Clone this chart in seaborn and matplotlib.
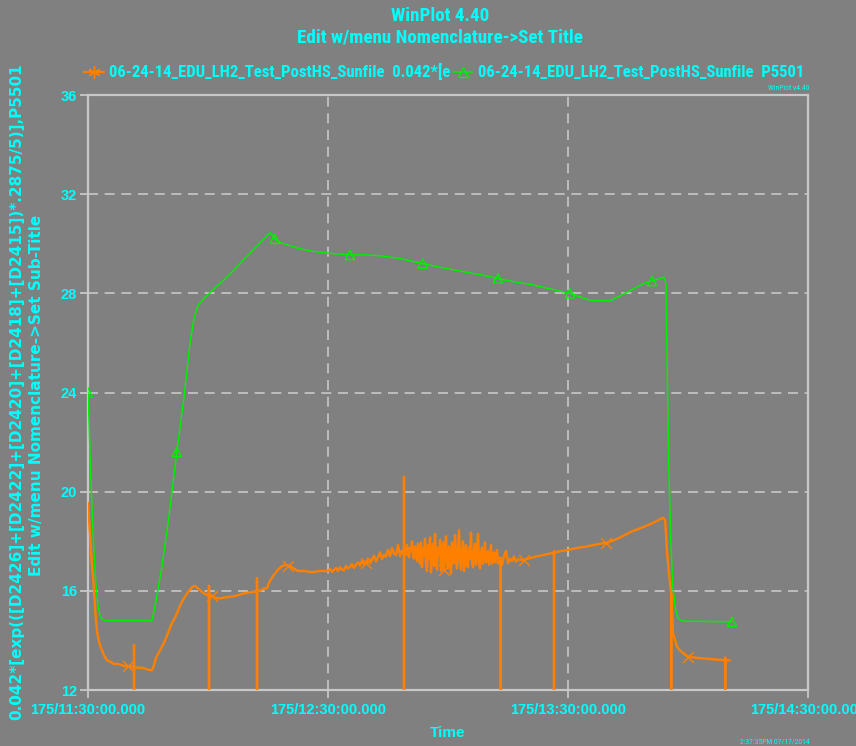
import numpy as np
import pandas as pd
import matplotlib
matplotlib.use("Agg")
import matplotlib.pyplot as plt
import seaborn as sns
from matplotlib.lines import Line2D
from matplotlib import font_manager

# ---------------- data ----------------
title_lines = ["WinPlot 4.40", "Edit w/menu Nomenclature->Set Title"]
legend_labels = ["06-24-14_EDU_LH2_Test_PostHS_Sunfile  0.042*[e",
                 "06-24-14_EDU_LH2_Test_PostHS_Sunfile  P5501"]
ylabel_lines = ["0.042*[exp(([D2426]+[D2422]+[D2420]+[D2418]+[D2415])*.2875/5)],P5501",
                "Edit w/menu Nomenclature->Set Sub-Title"]
xlabel_text = "Time"
corner_top = "WinPlot v4.40"
corner_bottom = "2:37:35PM 07/17/2014"

x_tick_pos = [0, 60, 120, 180]          # minutes after 175/11:30:00
x_tick_labels = ["175/11:30:00.000", "175/12:30:00.000",
                 "175/13:30:00.000", "175/14:30:00.000"]
y_ticks = [12, 16, 20, 24, 28, 32, 36]

# orange series: (minutes after 11:30, value); dropouts appear as vertical strokes
orange_start = [(0.0, 19.55), (0.3, 18.8), (0.7, 17.8), (1.0, 17.0), (1.3, 16.5), (1.7, 15.5), (2.0, 14.8),
                (2.3, 14.3), (2.7, 14.0), (3.0, 13.8), (3.5, 13.6), (4.0, 13.4), (4.7, 13.2), (5.5, 13.15),
                (6.5, 13.05), (7.5, 13.05), (8.5, 13.0), (9.5, 12.95), (10.0, 12.95), (10.5, 12.95),
                (11.5, 12.92), (11.5, 13.8), (11.5, 11.0), (11.5, 12.92),
                (12.5, 12.9), (13.5, 12.9), (14.5, 12.85), (15.5, 12.8), (16.0, 12.8), (16.5, 13.0),
                (17.0, 13.3), (18.0, 13.6), (19.0, 13.9), (20.0, 14.3), (21.0, 14.7), (22.0, 15.0),
                (23.0, 15.4), (24.0, 15.7), (25.0, 15.95), (26.0, 16.15), (26.7, 16.2), (27.5, 16.1),
                (28.5, 15.95), (29.5, 15.85),
                (30.25, 15.82), (30.25, 16.2), (30.25, 11.0), (30.25, 15.82),
                (31.0, 15.8), (32.0, 15.7), (33.0, 15.7), (35.0, 15.75), (37.0, 15.8), (39.0, 15.9), (41.0, 15.95),
                (42.25, 15.98), (42.25, 16.5), (42.25, 11.0), (42.25, 15.98),
                (43.0, 16.0), (44.0, 16.1), (44.7, 16.1), (45.5, 16.4), (46.3, 16.6), (47.5, 16.85),
                (48.5, 17.0), (49.5, 17.05), (50.0, 17.02), (50.5, 17.0), (51.5, 16.9), (52.5, 16.8),
                (54.0, 16.8), (56.0, 16.75), (58.0, 16.8)]
orange_noisy = [(60.0, 16.80), (60.5, 16.88), (61.0, 16.76), (61.5, 16.85), (62.0, 16.92), (62.5, 16.80),
                (63.0, 16.95), (63.5, 16.86), (64.0, 16.83), (64.5, 17.00), (65.0, 16.90), (65.5, 16.97),
                (66.0, 17.08), (66.5, 16.92), (67.0, 17.05), (67.5, 17.15), (68.0, 17.02), (68.5, 17.20),
                (69.0, 17.08), (69.5, 17.12), (70.0, 17.30), (70.5, 17.10), (71.0, 17.25), (71.5, 17.42),
                (72.0, 17.18), (72.5, 17.35), (73.0, 17.55), (73.5, 17.28), (74.0, 17.45), (74.5, 17.38),
                (75.0, 17.65), (75.5, 17.40), (76.0, 17.72), (76.5, 17.50), (77.0, 17.45), (77.5, 17.85),
                (78.0, 17.40), (78.5, 17.62),
                (79.0, 17.50), (79.0, 20.6), (79.0, 11.0), (79.0, 17.50),
                (79.25, 17.70), (79.5, 17.45), (79.75, 17.85), (80.0, 17.50), (80.25, 17.35), (80.5, 17.75),
                (80.75, 17.60), (81.0, 18.00), (81.25, 17.40), (81.5, 17.30), (81.75, 17.80), (82.0, 17.55),
                (82.25, 17.20), (82.5, 17.90), (82.75, 17.65), (83.0, 17.10), (83.25, 17.95), (83.5, 16.95),
                (83.75, 17.70), (84.0, 17.40), (84.25, 18.10), (84.5, 17.05), (84.75, 16.80), (85.0, 17.85),
                (85.25, 17.30), (85.5, 18.15), (85.75, 16.75), (86.0, 17.60), (86.25, 17.90), (86.5, 17.00),
                (86.75, 18.30), (87.0, 17.25), (87.25, 16.85), (87.5, 17.75), (87.75, 17.45), (88.0, 18.05),
                (88.25, 16.80), (88.5, 17.50), (88.75, 17.95), (89.0, 16.85), (89.25, 17.65), (89.5, 18.20),
                (89.75, 17.15), (90.0, 16.90), (90.25, 17.80), (90.5, 17.35), (90.75, 16.70), (91.0, 17.95),
                (91.25, 17.55), (91.5, 17.10), (91.75, 18.25), (92.0, 17.40), (92.25, 16.90), (92.5, 17.70),
                (92.75, 18.45), (93.0, 17.20), (93.25, 16.85), (93.5, 17.60), (93.75, 18.00), (94.0, 16.80),
                (94.25, 17.45), (94.5, 17.85), (94.75, 17.00), (95.0, 16.95), (95.25, 17.75), (95.5, 17.30),
                (95.75, 18.35), (96.0, 17.15), (96.25, 16.95), (96.5, 17.60), (96.75, 17.90), (97.0, 17.05),
                (97.25, 17.50), (97.5, 18.30), (97.75, 17.20), (98.0, 16.90), (98.25, 17.55), (98.5, 17.75),
                (98.75, 17.10), (99.0, 17.40), (99.25, 17.95), (99.5, 17.15), (99.75, 17.30), (100.0, 17.60),
                (100.25, 17.05), (100.5, 17.45), (100.75, 17.85), (101.0, 17.10), (101.25, 17.30), (101.5, 17.55),
                (101.75, 17.15), (102.0, 17.40), (102.25, 17.65), (102.5, 17.10), (102.75, 17.35), (103.0, 17.20),
                (103.2, 17.3), (103.2, 11.0), (103.2, 17.3),
                (103.5, 17.05), (104.0, 17.40), (104.5, 17.60), (105.0, 17.12), (105.5, 17.30), (106.0, 17.20),
                (106.5, 17.38), (107.0, 17.18), (107.5, 17.28)]
orange_end = [(108.0, 17.25), (109.0, 17.25), (110.0, 17.3), (112.0, 17.38), (114.0, 17.45), (116.0, 17.52),
              (116.5, 17.54), (116.5, 17.6), (116.5, 11.0), (116.5, 17.54),
              (118.0, 17.6), (120.0, 17.65), (122.0, 17.72), (125.0, 17.8), (128.0, 17.9), (129.5, 17.93),
              (130.0, 17.95), (133.0, 18.15), (136.0, 18.4), (138.0, 18.52), (140.0, 18.65), (142.0, 18.8),
              (143.75, 18.95), (144.3, 18.85), (144.75, 17.6), (145.2, 16.8),
              (145.8, 15.9), (145.8, 11.0), (145.8, 15.9),
              (146.25, 14.3), (147.25, 13.75), (148.0, 13.6), (149.0, 13.45), (150.0, 13.35), (152.0, 13.3),
              (155.5, 13.25), (158.0, 13.22),
              (159.3, 13.2), (159.3, 13.3), (159.3, 11.0), (159.3, 13.2),
              (160.5, 13.2)]
orange_mark_t = [10.0, 31.0, 50.0, 69.5, 89.0, 109.0, 129.5, 150.0]

# green series (P5501)
green_t = [0.0, 0.2, 0.5, 1.0, 1.5, 2.0, 2.5, 3.0, 3.5, 4.5, 16.0, 17.0, 18.5, 20.0, 22.2, 24.0, 25.5, 26.5,
           27.5, 29.0, 31.0, 33.0, 35.0, 38.0, 41.0, 44.0, 45.5, 46.7, 48.0, 50.0, 53.0, 56.0, 60.0, 65.5,
           70.0, 74.0, 78.0, 83.7, 88.0, 93.0, 98.0, 102.5, 107.0, 111.0, 115.0, 120.5, 124.0, 126.0, 130.5,
           133.0, 136.0, 139.0, 141.0, 144.0, 144.5, 144.8, 145.2, 145.7, 146.2, 146.8, 147.5, 148.5, 161.0]
green_v = [24.0, 23.2, 21.5, 19.3, 17.5, 16.2, 15.4, 15.0, 14.85, 14.8, 14.8, 15.6, 17.0, 18.7, 21.6, 23.8, 26.0, 27.0,
           27.5, 27.8, 28.1, 28.4, 28.7, 29.2, 29.7, 30.2, 30.45, 30.2, 30.05, 29.95, 29.8, 29.7, 29.62, 29.55,
           29.55, 29.5, 29.4, 29.2, 29.05, 28.9, 28.75, 28.6, 28.45, 28.35, 28.2, 28.0, 27.8, 27.7, 27.7,
           27.9, 28.15, 28.4, 28.5, 28.65, 28.4, 25.0, 21.0, 18.0, 16.2, 15.3, 14.9, 14.78, 14.75]
green_mark_t = [0.0, 22.2, 46.7, 65.5, 83.7, 102.5, 120.5, 141.0, 161.0]

# ---------------- style ----------------
BG = "#808080"
CYAN = "#00FFFF"
ORANGE = "#FF8000"
GREEN = "#00F000"
FRAME = "#C8C8C8"
BOLD = ["Liberation Sans", "DejaVu Sans"]

avail = {f.name for f in font_manager.fontManager.ttflist}
narrow_name = None
for cand in ["Liberation Sans Narrow", "Arial Narrow", "Roboto Condensed",
             "Open Sans Condensed", "DejaVu Sans Condensed"]:
    if cand in avail:
        narrow_name = cand
        break
NARROW = ([narrow_name] if narrow_name else []) + ["Liberation Sans", "DejaVu Sans"]

sns.set_style("dark")
plt.rcParams["font.family"] = BOLD

fig = plt.figure(figsize=(8.56, 7.46), dpi=100, facecolor=BG)
renderer = fig.canvas.get_renderer()


def fitted_size(txt, family, target_px, base=12.0):
    t = fig.text(0, 0, txt, fontsize=base, fontweight="bold", family=family)
    w = t.get_window_extent(renderer).width
    t.remove()
    return base * target_px / w


ax = fig.add_axes([88 / 856, 1 - 690 / 746, 720 / 856, 595 / 746], facecolor=BG)

orange_pts = orange_start + orange_noisy + orange_end
orange_df = pd.DataFrame(orange_pts, columns=["t", "v"])
green_df = pd.DataFrame({"t": green_t, "v": green_v})

sns.lineplot(data=orange_df, x="t", y="v", estimator=None, sort=False, ax=ax,
             color=ORANGE, lw=1.7, zorder=3)
sns.lineplot(data=green_df, x="t", y="v", estimator=None, sort=False, ax=ax,
             color=GREEN, lw=1.1, zorder=4)

o_marks = orange_df[orange_df["t"].isin(orange_mark_t)].drop_duplicates("t")
g_marks = green_df[green_df["t"].isin(green_mark_t)].drop_duplicates("t")
sns.scatterplot(data=o_marks, x="t", y="v", ax=ax, marker="x", s=60, color=ORANGE,
                linewidth=1.0, zorder=5)
ax.scatter(g_marks["t"], g_marks["v"], marker="^", s=45, facecolors="none",
           edgecolors=GREEN, linewidths=1.0, zorder=5)

ax.set_xlim(x_tick_pos[0], x_tick_pos[-1])
ax.set_ylim(y_ticks[0], y_ticks[-1])
ax.set_xticks(x_tick_pos)
ax.set_xticklabels(x_tick_labels)
ax.set_yticks(y_ticks)
ax.set_xlabel("")
ax.set_ylabel("")

ax.grid(True, color=FRAME, lw=1.2, linestyle=(0, (6, 4)))
for s in ax.spines.values():
    s.set_visible(True)
    s.set_color(FRAME)
    s.set_linewidth(1.6)
ax.tick_params(axis="both", direction="out", length=6, width=1.3, color=FRAME,
               labelcolor=CYAN, labelsize=10.5, bottom=True, left=True)
ax.tick_params(axis="y", pad=2)
ax.tick_params(axis="x", pad=3)
for lab in ax.get_xticklabels() + ax.get_yticklabels():
    lab.set_fontweight("bold")
    lab.set_family(BOLD)

# titles
title_size = min(14.5, fitted_size(title_lines[1], NARROW, 286))
fig.text(440 / 856, 1 - 16 / 746, title_lines[0], ha="center", va="center",
         color=CYAN, fontsize=title_size, fontweight="bold", family=NARROW)
fig.text(440 / 856, 1 - 38 / 746, title_lines[1], ha="center", va="center",
         color=CYAN, fontsize=title_size, fontweight="bold", family=NARROW)

# legend
legend_size = min(14.0, fitted_size(legend_labels[1], NARROW, 325))
em_px = legend_size * 100 / 72
handles = [Line2D([], [], color=ORANGE, lw=1.6, marker=(6, 2, 0), markersize=9, markeredgewidth=1.0),
           Line2D([], [], color=GREEN, lw=1.1, marker="^", markersize=7, markerfacecolor="none",
                  markeredgecolor=GREEN, markeredgewidth=1.0)]
leg = fig.legend(handles, legend_labels, loc="center", bbox_to_anchor=(444 / 856, 1 - 72 / 746),
                 ncol=2, frameon=False, handlelength=20 / em_px,
                 handletextpad=5 / em_px, columnspacing=3 / em_px, borderpad=0, borderaxespad=0,
                 prop={"family": NARROW, "weight": "bold", "size": legend_size})
for t in leg.get_texts():
    t.set_color(CYAN)

# y label (two lines)
fig.text(17 / 856, 1 - 392 / 746, ylabel_lines[0], rotation=90, ha="center", va="center",
         color=CYAN, fontsize=11, fontweight="bold", family=["DejaVu Sans"])
fig.text(37 / 856, 1 - 395 / 746, ylabel_lines[1], rotation=90, ha="center", va="center",
         color=CYAN, fontsize=11, fontweight="bold", family=["DejaVu Sans"])

# x label
fig.text(448 / 856, 1 - 733 / 746, xlabel_text, ha="center", va="center",
         color=CYAN, fontsize=11, fontweight="bold", family=BOLD)

# corner notes
fig.text(810 / 856, 1 - 88 / 746, corner_top, ha="right", va="center",
         color=CYAN, fontsize=5.5, family=NARROW)
fig.text(810 / 856, 1 - 742 / 746, corner_bottom, ha="right", va="center",
         color=CYAN, fontsize=5.5, family=NARROW)

fig.savefig("out.png", dpi=100, facecolor=BG)
